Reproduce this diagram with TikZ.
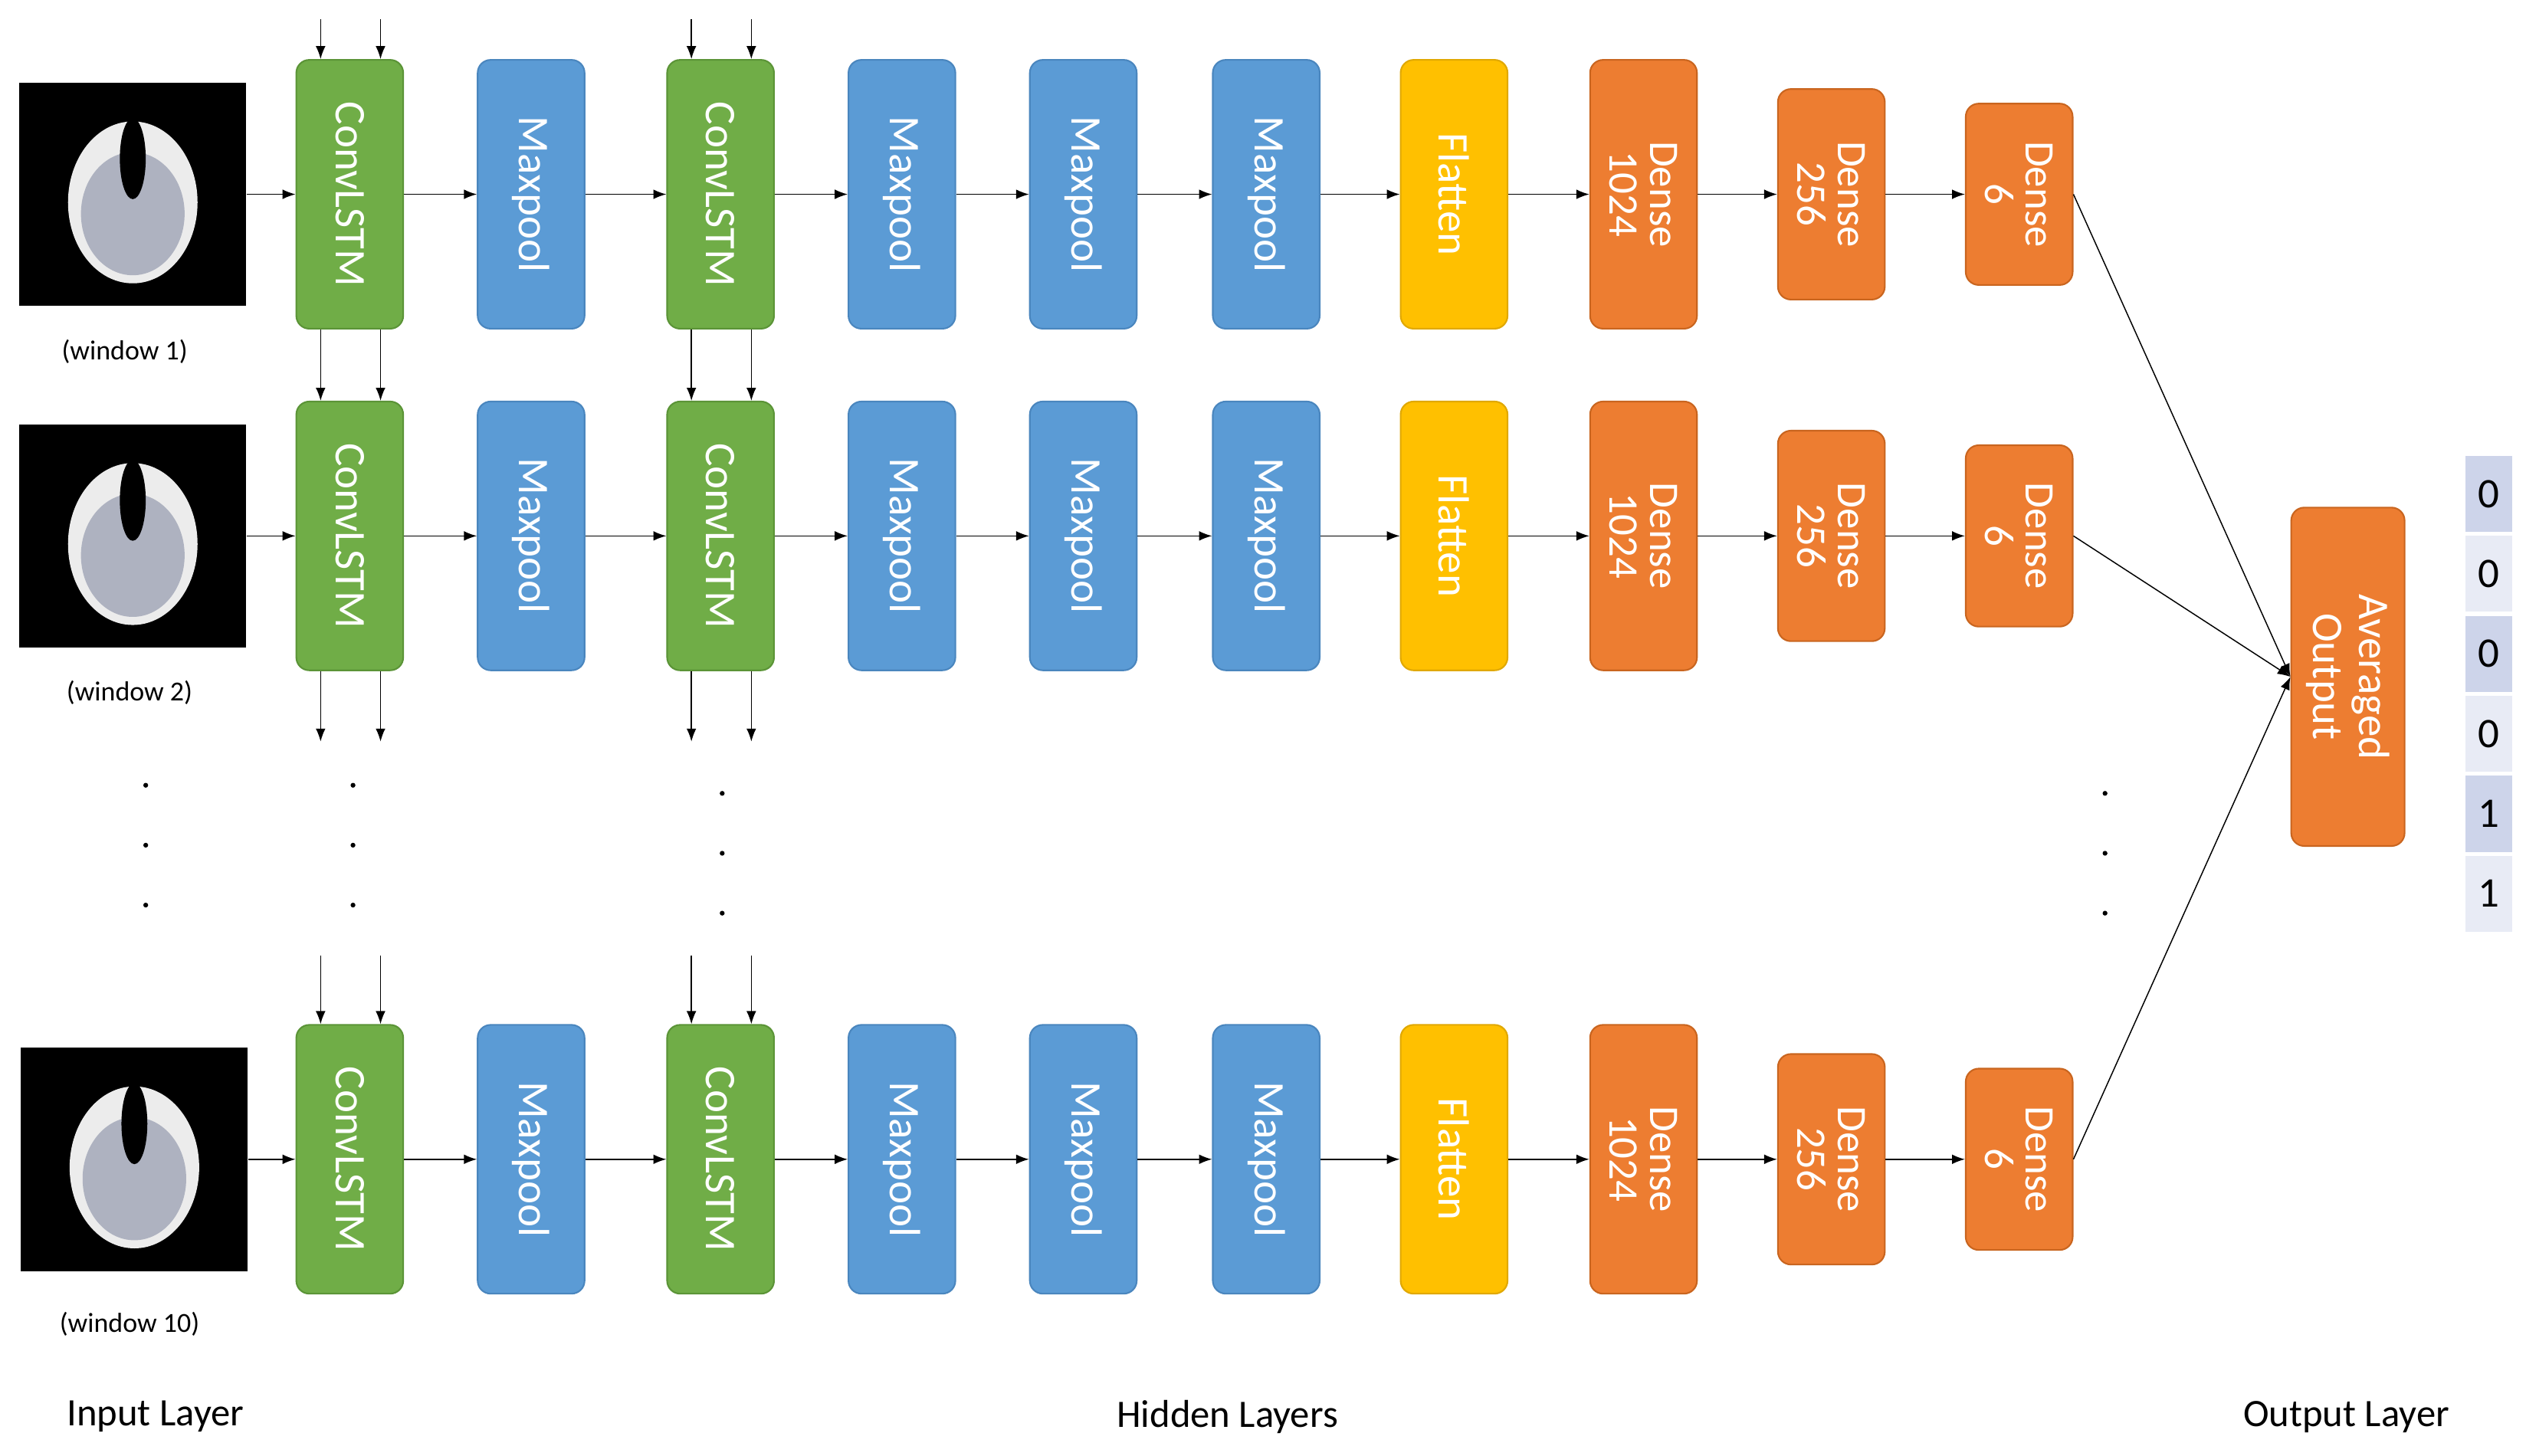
\documentclass[tikz,border=0pt]{standalone}
\usepackage{fontspec}
\setmainfont{Carlito}
\usetikzlibrary{arrows.meta,calc}
\definecolor{cgreen}{HTML}{70AD47}
\definecolor{cgreenb}{HTML}{5B9437}
\definecolor{cblue}{HTML}{5B9BD5}
\definecolor{cblueb}{HTML}{4A86BE}
\definecolor{cyel}{HTML}{FFC000}
\definecolor{cyelb}{HTML}{E0A800}
\definecolor{corg}{HTML}{ED7D31}
\definecolor{corgb}{HTML}{C9651F}
\definecolor{cellA}{HTML}{CDD4EA}
\definecolor{cellB}{HTML}{E8EBF5}
\tikzset{
 box/.style={rectangle,rounded corners=8pt,rotate=-90,minimum height=66pt,text=white,font=\fontsize{27}{28}\selectfont,align=center,inner sep=0pt,line width=1pt},
 conv/.style={box,fill=cgreen,draw=cgreenb,minimum width=166pt},
 pool/.style={box,fill=cblue,draw=cblueb,minimum width=166pt},
 flat/.style={box,fill=cyel,draw=cyelb,minimum width=166pt},
 d1/.style={box,fill=corg,draw=corgb,minimum width=166pt,font=\fontsize{26}{25}\selectfont},
 d2/.style={box,fill=corg,draw=corgb,minimum width=130pt,font=\fontsize{26}{25}\selectfont},
 d3/.style={box,fill=corg,draw=corgb,minimum width=112pt,font=\fontsize{26}{25}\selectfont},
 arr/.style={-{Latex[length=8pt,width=6pt]},line width=0.7pt},
 ln/.style={line width=0.7pt},
 cell/.style={minimum width=29pt,minimum height=47pt,inner sep=0pt,font=\fontsize{26}{26}\selectfont},
 lab/.style={font=\fontsize{17}{18}\selectfont},
 big/.style={font=\fontsize{24}{26}\selectfont},
 dot/.style={circle,fill=black,inner sep=0pt,minimum size=3pt},
 ct/.style={rectangle,fill=black,minimum width=140pt,minimum height=138pt,inner sep=0pt}
}
\begin{document}
\begin{tikzpicture}[x=1pt,y=-1pt]
\useasboundingbox (0,0) rectangle (1560,899);
\foreach \r/\y/\ix in {1/120/82,2/331/82,3/716/83}{
 \node[ct] (img\r) at (\ix,\y) {};
 \fill[white!85!gray] (\ix,\y+5) ellipse (40pt and 50pt);
 \fill[cellA!60!gray] (\ix,\y+12) ellipse (32pt and 38pt);
 \fill[black] (\ix,\y-22) ellipse (8pt and 25pt);
 \node[conv] (c1\r) at (216,\y) {ConvLSTM};
 \node[pool] (p1\r) at (328,\y) {Maxpool};
 \node[conv] (c2\r) at (445,\y) {ConvLSTM};
 \node[pool] (p2\r) at (557,\y) {Maxpool};
 \node[pool] (p3\r) at (669,\y) {Maxpool};
 \node[pool] (p4\r) at (782,\y) {Maxpool};
 \node[flat] (f\r) at (898,\y) {Flatten};
 \node[d1] (da\r) at (1015,\y) {Dense\\1024};
 \node[d2] (db\r) at (1131,\y) {Dense\\256};
 \node[d3] (dc\r) at (1247,\y) {Dense\\6};
 \draw[arr] (img\r.east) -- (c1\r.south);
 \draw[arr] (c1\r.north) -- (p1\r.south);
 \draw[arr] (p1\r.north) -- (c2\r.south);
 \draw[arr] (c2\r.north) -- (p2\r.south);
 \draw[arr] (p2\r.north) -- (p3\r.south);
 \draw[arr] (p3\r.north) -- (p4\r.south);
 \draw[arr] (p4\r.north) -- (f\r.south);
 \draw[arr] (f\r.north) -- (da\r.south);
 \draw[arr] (da\r.north) -- (db\r.south);
 \draw[arr] (db\r.north) -- (dc\r.south);
}
\node[lab] (w1) at (77,217) {(window 1)};
\node[lab] (w2) at (80,428) {(window 2)};
\node[lab] (w3) at (80,818) {(window 10)};
\node[box,fill=corg,draw=corgb,minimum width=209pt,minimum height=70pt] (ao) at (1450,418) {Averaged\\Output};
\foreach \r in {1,2,3}{\draw[arr] (dc\r.north) -- (ao.south);}
% vertical recurrent arrows
\foreach \c/\x in {c1/216,c2/445}{
 \foreach \dx in {-18,19}{
  \coordinate (t\c\dx) at (\x+\dx,12);
  \coordinate (b\c\dx) at (\x+\dx,458);
  \coordinate (u\c\dx) at (\x+\dx,590);
  \draw[arr] (t\c\dx) -- ([xshift=\dx pt]\c1.west);
  \draw[arr] ([xshift=\dx pt]\c1.east) -- ([xshift=\dx pt]\c2.west);
  \draw[arr] ([xshift=\dx pt]\c2.east) -- (b\c\dx);
  \draw[arr] (u\c\dx) -- ([xshift=\dx pt]\c3.west);
 }
}
% dots
\foreach \x/\y in {90/485,90/522,90/559,218/485,218/522,218/559,446/490,446/527,446/564,1300/490,1300/527,1300/564}{
 \node[dot] at (\x,\y) {};
}
% output vector
\foreach \i/\v in {0/0,1/0,2/0,3/0,4/1,5/1}{
 \pgfmathsetmacro{\yy}{305+49.4*\i}
 \ifodd\i \def\cc{cellB}\else\def\cc{cellA}\fi
 \node[cell,fill=\cc] (v\i) at (1537,\yy) {\v};
}
\node[big] (il) at (96,875) {Input Layer};
\node[big] (hl) at (758,875) {Hidden Layers};
\node[big] (ol) at (1449,875) {Output Layer};
\end{tikzpicture}
\end{document}
